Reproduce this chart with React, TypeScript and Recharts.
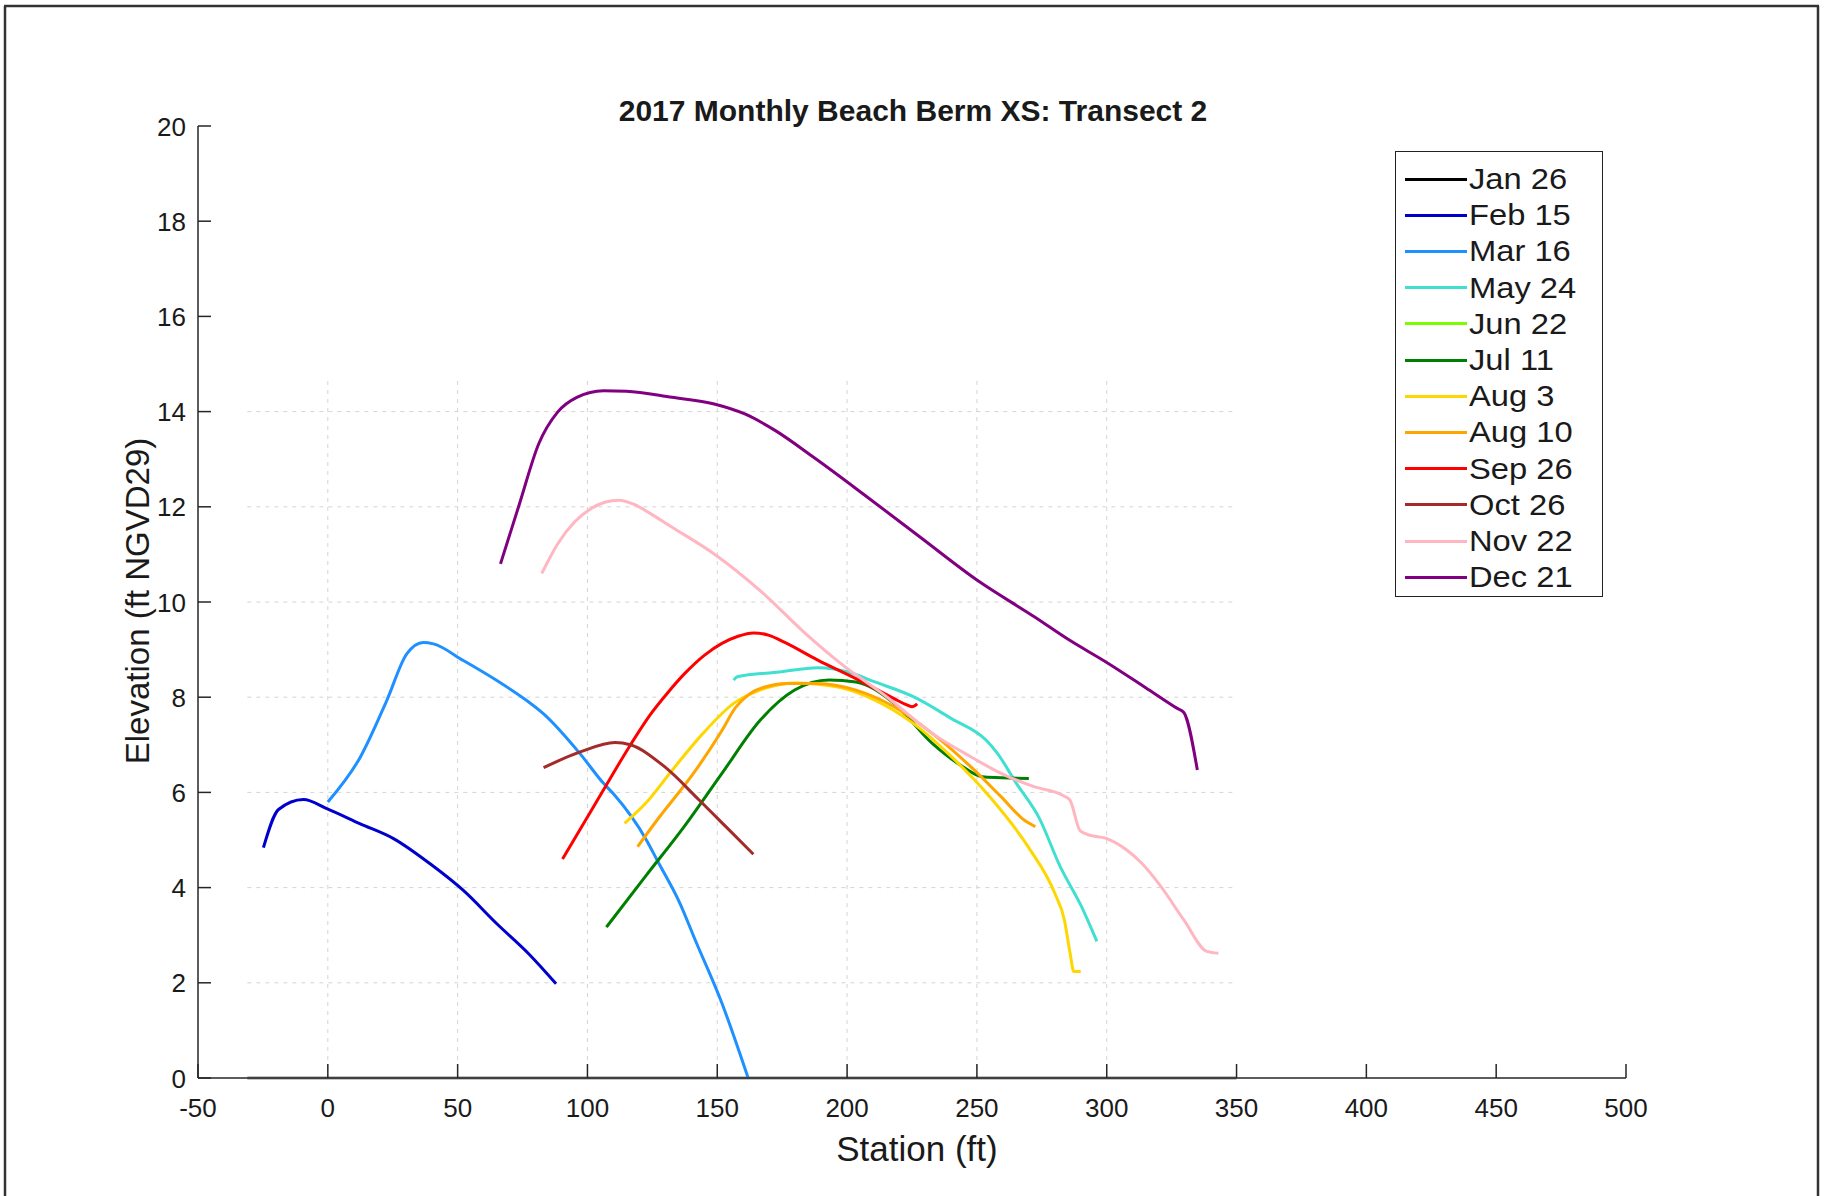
import React from 'react';
import { LineChart, Line, XAxis, YAxis, Legend, ReferenceLine } from 'recharts';

const FONT = '"Liberation Sans", Arial, Helvetica, sans-serif';

const X_TICKS = [-50, 0, 50, 100, 150, 200, 250, 300, 350, 400, 450, 500];
const Y_TICKS = [0, 2, 4, 6, 8, 10, 12, 14, 16, 18, 20];
const GRID_X = [0, 50, 100, 150, 200, 250, 300];
const GRID_Y = [2, 4, 6, 8, 10, 12, 14];
const GRID_X_RANGE = [-31, 350];
const GRID_Y_TOP = 14.7;

const SERIES_NAMES = ['Jan 26', 'Feb 15', 'Mar 16', 'May 24', 'Jun 22', 'Jul 11', 'Aug 3', 'Aug 10', 'Sep 26', 'Oct 26', 'Nov 22', 'Dec 21'];
const SERIES_COLORS = ['#000000', '#0000CD', '#1E90FF', '#40E0D0', '#7CFC00', '#008000', '#FFD700', '#FFA500', '#FF0000', '#A52A2A', '#FFB6C1', '#800080'];

const jan26: number[][] = [];
const feb15: number[][] = [[-24.8, 4.84], [-19.0, 5.64], [-9.4, 5.85], [-0.4, 5.66], [12.5, 5.34], [25.3, 5.03], [39.4, 4.5], [52.2, 3.94], [65.1, 3.24], [77.9, 2.58], [87.9, 1.98]];
const mar16: number[][] = [[0, 5.8], [12.5, 6.74], [22.7, 7.93], [30.4, 8.91], [36.8, 9.15], [40.7, 9.12], [52.2, 8.77], [65.1, 8.35], [76.6, 7.93], [83.1, 7.65], [97.2, 6.81], [106.2, 6.19], [110.0, 5.97], [122.8, 4.99], [126.8, 4.58], [135.7, 3.66], [141.5, 2.9], [151.8, 1.57], [161.9, 0]];
const may24: number[][] = [[156.3, 8.36], [157.7, 8.43], [173.9, 8.53], [188.7, 8.62], [200.4, 8.53], [210.7, 8.32], [225.5, 8.01], [240.2, 7.55], [253.5, 7.1], [257.9, 6.82], [265.2, 6.19], [274.1, 5.45], [282, 4.45], [290.3, 3.6], [296.2, 2.87]];
const jun22: number[][] = [];
const jul11: number[][] = [[107.3, 3.17], [122.4, 4.24], [137.1, 5.27], [151.8, 6.4], [166.6, 7.52], [179.8, 8.15], [193.1, 8.36], [203.4, 8.32], [218.1, 7.87], [232.8, 7.03], [244.6, 6.54], [252, 6.33], [259.3, 6.31], [270, 6.29]];
const aug3: number[][] = [[114.3, 5.35], [122.4, 5.77], [132.7, 6.47], [144.5, 7.24], [156.3, 7.87], [168, 8.18], [179.8, 8.3], [196, 8.22], [210.7, 7.94], [225.5, 7.45], [240.2, 6.75], [254.9, 5.91], [269.7, 4.86], [280, 3.88], [283.7, 3.32], [285.9, 2.62], [287.3, 2.24], [290, 2.24]];
const aug10: number[][] = [[119.3, 4.86], [126.7, 5.41], [141.5, 6.45], [151.8, 7.3], [157, 7.78], [162, 8.05], [168, 8.21], [176.9, 8.29], [188.7, 8.29], [203.4, 8.15], [218.1, 7.8], [232.8, 7.24], [247.6, 6.54], [259.3, 5.91], [268.2, 5.42], [272.5, 5.28]];
const sep26: number[][] = [[90.4, 4.6], [98, 5.3], [107, 6.13], [116, 6.95], [124, 7.62], [131, 8.1], [137.5, 8.5], [145, 8.88], [151.8, 9.13], [158, 9.28], [164, 9.35], [170, 9.3], [176, 9.15], [188.7, 8.78], [203.4, 8.39], [218.1, 7.97], [222.5, 7.85], [225, 7.8], [227, 7.86]];
const oct26: number[][] = [[83.1, 6.52], [97.2, 6.85], [110.6, 7.05], [116.5, 7.0], [129.7, 6.54], [143, 5.84], [153.3, 5.28], [163.9, 4.7]];
const nov22: number[][] = [[82.4, 10.6], [88.5, 11.22], [95, 11.68], [101, 11.95], [107, 12.1], [112, 12.14], [118, 12.05], [125, 11.83], [132.6, 11.57], [148.8, 11.01], [166.5, 10.24], [184.1, 9.33], [197.5, 8.71], [215.2, 8.01], [232.8, 7.24], [247.6, 6.75], [259.3, 6.4], [272, 6.12], [283, 5.94], [285.8, 5.84], [289.8, 5.19], [293.5, 5.1], [299.5, 5.04], [307.7, 4.79], [313.5, 4.51], [320.9, 4.02], [329.7, 3.32], [338.6, 2.66], [343, 2.62]];
const dec21: number[][] = [[66.5, 10.8], [73.8, 12.06], [81.2, 13.32], [88.5, 13.99], [95.9, 14.3], [106.2, 14.44], [115, 14.43], [132.6, 14.3], [148.8, 14.16], [160.6, 13.95], [172.4, 13.6], [187.1, 13.04], [206.2, 12.27], [228.2, 11.36], [250.3, 10.45], [272.4, 9.68], [285.6, 9.2], [300.3, 8.72], [315, 8.2], [327, 7.77], [329.7, 7.68], [334.9, 6.47]];

const SERIES_POINTS = [jan26, feb15, mar16, may24, jun22, jul11, aug3, aug10, sep26, oct26, nov22, dec21];

const SERIES = SERIES_NAMES.map((name, i) => ({
  name,
  color: SERIES_COLORS[i],
  data: SERIES_POINTS[i].map(([x, y]) => ({ x, y })),
}));

const TEXT_COLOR = '#1a1a1a';
const AXIS_COLOR = '#262626';

const XTick = (props: any) => {
  const { x, y, payload } = props;
  return (
    <g>
      <line x1={x} y1={y} x2={x} y2={y - 14} stroke={AXIS_COLOR} strokeWidth={1.5} />
      <text x={x} y={y + 39} textAnchor="middle" fontSize={26} fontFamily={FONT} fill={TEXT_COLOR}>
        {payload.value}
      </text>
    </g>
  );
};

const YTick = (props: any) => {
  const { x, y, payload } = props;
  return (
    <g>
      <line x1={x} y1={y} x2={x + 13} y2={y} stroke={AXIS_COLOR} strokeWidth={1.5} />
      <text x={x - 12} y={y + 9.5} textAnchor="end" fontSize={26} fontFamily={FONT} fill={TEXT_COLOR}>
        {payload.value}
      </text>
    </g>
  );
};

const LegendBox = (props: any) => {
  const payload: any[] = (props && props.payload) || [];
  const entries = SERIES.map((s) => {
    const found = payload.find((p: any) => p.value === s.name);
    return { name: s.name, color: found ? found.color : s.color };
  });
  return (
    <div
      style={{
        width: 208,
        height: 446,
        border: '1.5px solid #222',
        boxSizing: 'border-box',
        background: '#fff',
        position: 'relative',
        fontFamily: FONT,
      }}
    >
      {entries.map((p, i) => (
        <div
          key={p.name}
          style={{
            position: 'absolute',
            left: 0,
            top: 27 + i * 36.2 - 18,
            height: 36,
            display: 'flex',
            alignItems: 'center',
            whiteSpace: 'nowrap',
          }}
        >
          <div style={{ marginLeft: 9, width: 62, height: 3, background: p.color }} />
          <span
            style={{
              marginLeft: 2,
              fontSize: 30,
              color: TEXT_COLOR,
              lineHeight: '36px',
              display: 'inline-block',
              transform: 'scaleX(1.09)',
              transformOrigin: 'left center',
            }}
          >
            {p.name}
          </span>
        </div>
      ))}
    </div>
  );
};

export default function App() {
  return (
    <div style={{ position: 'fixed', left: 0, top: 0, width: 1824, height: 1196, background: '#fff', overflow: 'hidden' }}>
      <LineChart width={1824} height={1196} margin={{ top: 126, right: 198, bottom: 88, left: 138 }}>
        <XAxis
          type="number"
          dataKey="x"
          domain={[-50, 500]}
          ticks={X_TICKS}
          interval={0}
          allowDataOverflow
          height={30}
          tickSize={0}
          tickMargin={0}
          tickLine={false}
          axisLine={{ stroke: AXIS_COLOR, strokeWidth: 1.5 }}
          tick={(p: any) => <XTick {...p} />}
        />
        <YAxis
          type="number"
          dataKey="y"
          domain={[0, 20]}
          ticks={Y_TICKS}
          interval={0}
          allowDataOverflow
          width={60}
          tickSize={0}
          tickMargin={0}
          tickLine={false}
          axisLine={{ stroke: AXIS_COLOR, strokeWidth: 1.5 }}
          tick={(p: any) => <YTick {...p} />}
        />
        {GRID_Y.map((gy) => (
          <ReferenceLine
            key={'gy' + gy}
            segment={[{ x: GRID_X_RANGE[0], y: gy }, { x: GRID_X_RANGE[1], y: gy }]}
            stroke="#d4d4d4"
            strokeWidth={1}
            strokeDasharray="4 5"
          />
        ))}
        {GRID_X.map((gx) => (
          <ReferenceLine
            key={'gx' + gx}
            segment={[{ x: gx, y: 0 }, { x: gx, y: GRID_Y_TOP }]}
            stroke="#d4d4d4"
            strokeWidth={1}
            strokeDasharray="4 5"
          />
        ))}
        <ReferenceLine
          segment={[{ x: GRID_X_RANGE[0], y: 0 }, { x: GRID_X_RANGE[1], y: 0 }]}
          stroke="#8a8a8a"
          strokeWidth={3}
        />
        {SERIES.map((s) => (
          <Line
            key={s.name}
            name={s.name}
            data={s.data}
            dataKey="y"
            type="monotone"
            stroke={s.color}
            strokeWidth={3}
            dot={false}
            activeDot={false}
            legendType="plainline"
            isAnimationActive={false}
          />
        ))}
        <Legend
          layout="vertical"
          align="center"
          verticalAlign="middle"
          wrapperStyle={{ top: 151, left: 1395, width: 208, height: 446 }}
          content={(p: any) => <LegendBox {...p} />}
        />
      </LineChart>
      <svg
        width={1824}
        height={1196}
        style={{ position: 'absolute', left: 0, top: 0, pointerEvents: 'none' }}
      >
        <line x1={5} y1={6} x2={5} y2={1196} stroke="#333" strokeWidth={2.5} />
        <line x1={4} y1={6} x2={1819} y2={6} stroke="#333" strokeWidth={2.5} />
        <line x1={1818} y1={6} x2={1818} y2={1196} stroke="#333" strokeWidth={2.5} />
        <text x={913} y={121} textAnchor="middle" fontSize={30} fontWeight="bold" fontFamily={FONT} fill={TEXT_COLOR}>
          2017 Monthly Beach Berm XS: Transect 2
        </text>
        <text x={917} y={1161} textAnchor="middle" fontSize={35} fontFamily={FONT} fill={TEXT_COLOR}>
          Station (ft)
        </text>
        <text transform="translate(149,601) rotate(-90)" textAnchor="middle" fontSize={33} fontFamily={FONT} fill={TEXT_COLOR}>
          Elevation (ft NGVD29)
        </text>
      </svg>
    </div>
  );
}
